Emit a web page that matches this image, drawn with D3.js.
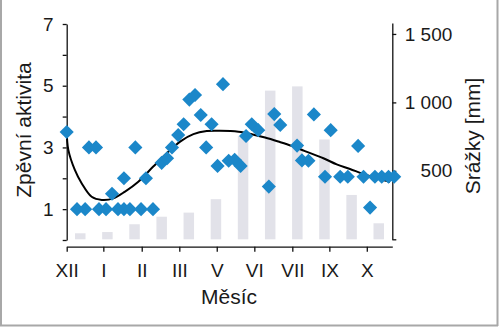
<!DOCTYPE html>
<html>
<head>
<meta charset="utf-8">
<script src="https://cdn.jsdelivr.net/npm/d3@7"></script>
<style>
  html, body { margin: 0; padding: 0; background: #fff; }
  svg { display: block; font-family: "Liberation Sans", Arial, Helvetica, sans-serif; }
  .axis path, .axis line { stroke: #111; stroke-width: 1.3; }
  .axis text { fill: #1a1a1a; font-size: 19px; }
  .title { fill: #1a1a1a; font-size: 21px; }
</style>
</head>
<body>
<svg id="chart" width="500" height="328"></svg>
<script>
// Monthly precipitation (mm), one bar per month bin, December to November
const precipitation = [44, 53, 110, 165, 195, 293, 756, 1086, 1117, 729, 324, 117];

// Month axis: tick positions (in months from the start of December) and their labels
const monthTickPos = [0, 1.35, 2.765, 4.15, 5.53, 6.915, 8.315, 9.68, 11.06];
const monthLabels = ["XII", "I", "II", "III", "V", "VI", "VII", "IX", "X"];

// Song activity observations: time (months from start of December) and activity score
const songTime = [0, 0.38, 0.68, 0.82, 1.08, 1.19, 1.45, 1.67, 1.89, 2.11, 2.11, 2.33, 2.53,
  2.74, 2.92, 3.18, 3.50, 3.70, 3.88, 4.11, 4.31, 4.52, 4.73, 4.94, 5.14, 5.34, 5.56,
  5.76, 5.97, 6.19, 6.41, 6.61, 6.82, 7.06, 7.45, 7.65, 7.87, 8.49, 8.67, 8.91, 9.11,
  9.52, 9.73, 10.08, 10.36, 10.74, 10.94, 11.18, 11.36, 11.61, 11.86, 12.07];
const songActivity = [3.5, 1, 1, 3, 3, 1, 1, 1.5, 1, 1, 2, 1, 3,
  1, 2, 1, 2.5, 2.65, 3, 3.4, 3.75, 4.55, 4.7, 4.05, 3, 3.75, 2.4,
  5.05, 2.57, 2.6, 2.4, 3.37, 3.75, 3.56, 1.73, 4.08, 3.73, 3.06, 2.58, 2.57, 4.07,
  2.05, 3.56, 2.05, 2.05, 3.05, 2.05, 1.05, 2.05, 2.05, 2.05, 2.05];

// Fitted trend of song activity
const trendTime = [0, 0.06, 0.30, 0.55, 0.92, 1.29, 1.72, 2.15, 2.64, 3.19, 3.69, 4.18,
  4.67, 5.16, 5.65, 6.33, 6.82, 7.31, 7.80, 8.29, 8.78, 9.46, 9.95, 10.44, 10.93, 11.43, 11.92];
const trendActivity = [3.51, 2.92, 2.27, 1.84, 1.40, 1.30, 1.35, 1.57, 1.89, 2.38, 2.81, 3.19,
  3.43, 3.53, 3.54, 3.51, 3.43, 3.32, 3.19, 3.05, 2.88, 2.65, 2.45, 2.30, 2.14, 2.00, 1.89];

const svg = d3.select("#chart");

const x = d3.scaleLinear().domain([0, 12]).range([66.7, 392.3]);
const yL = d3.scaleLinear().domain([0, 7]).range([240, 24]);
const yR = d3.scaleLinear().domain([0, 1580]).range([239.3, 23]);

const czLocale = d3.formatLocale({ decimal: ",", thousands: " ", grouping: [3], currency: ["", " Kč"] });
const fmtMM = czLocale.format(",");

// Frame lines along the edges
svg.append("g").attr("stroke", "#a8a8a8").attr("stroke-width", 2).attr("fill", "none")
  .call(g => {
    g.append("line").attr("x1", 1).attr("x2", 1).attr("y1", 0).attr("y2", 326);
    g.append("line").attr("x1", 0).attr("x2", 498).attr("y1", 325.5).attr("y2", 325.5);
    g.append("line").attr("x1", 497.5).attr("x2", 497.5).attr("y1", 0).attr("y2", 326);
  });

// Precipitation bars
svg.append("g").selectAll("rect")
  .data(precipitation)
  .join("rect")
  .attr("x", (d, i) => x(i + 0.5) - 5.25)
  .attr("width", 10.5)
  .attr("y", d => yR(d))
  .attr("height", d => yR(0) - yR(d))
  .attr("fill", "#e2e2e9");

// Left axis: song activity
svg.append("g").attr("class", "axis")
  .attr("transform", `translate(${x(0)},0)`)
  .call(d3.axisLeft(yL).tickValues(d3.range(0, 8)).tickSize(4).tickSizeOuter(0).tickPadding(9)
    .tickFormat(d => d % 2 === 1 ? d : ""));

// Right axis: precipitation
const rAxis = svg.append("g").attr("class", "axis")
  .attr("transform", `translate(${x(12)},0)`)
  .call(d3.axisRight(yR).tickValues([0, 500, 1000, 1500]).tickSize(4).tickSizeOuter(0)
    .tickFormat(d => d === 0 ? "" : fmtMM(d)));
rAxis.selectAll(".tick text").attr("x", 60).attr("text-anchor", "end");

// Bottom axis: months
svg.append("g").attr("class", "axis")
  .attr("transform", "translate(0,246.7)")
  .call(d3.axisBottom(x).tickValues(monthTickPos).tickSize(5).tickSizeOuter(0).tickPadding(11.5)
    .tickFormat((d, i) => monthLabels[i]));

// Trend curve
const line = d3.line()
  .x((d, i) => x(trendTime[i]))
  .y((d, i) => yL(trendActivity[i]))
  .curve(d3.curveCatmullRom.alpha(0.5));
svg.append("path")
  .datum(trendTime)
  .attr("d", line)
  .attr("fill", "none")
  .attr("stroke", "#000")
  .attr("stroke-width", 2);

// Observations as diamonds
const diamond = d3.symbol(d3.symbolSquare, 100);
svg.append("g").selectAll("path")
  .data(songTime)
  .join("path")
  .attr("d", diamond)
  .attr("transform", (d, i) => `translate(${x(d)},${yL(songActivity[i])}) rotate(45)`)
  .attr("fill", "#1b87c9");

// Axis titles
svg.append("text").attr("class", "title")
  .attr("transform", "translate(31,130) rotate(-90)")
  .attr("text-anchor", "middle")
  .text("Zpěvní aktivita");
svg.append("text").attr("class", "title")
  .attr("transform", "translate(480,136) rotate(-90)")
  .attr("text-anchor", "middle")
  .text("Srážky [mm]");
svg.append("text").attr("class", "title")
  .attr("x", 229).attr("y", 304)
  .attr("text-anchor", "middle")
  .text("Měsíc");
</script>
</body>
</html>
